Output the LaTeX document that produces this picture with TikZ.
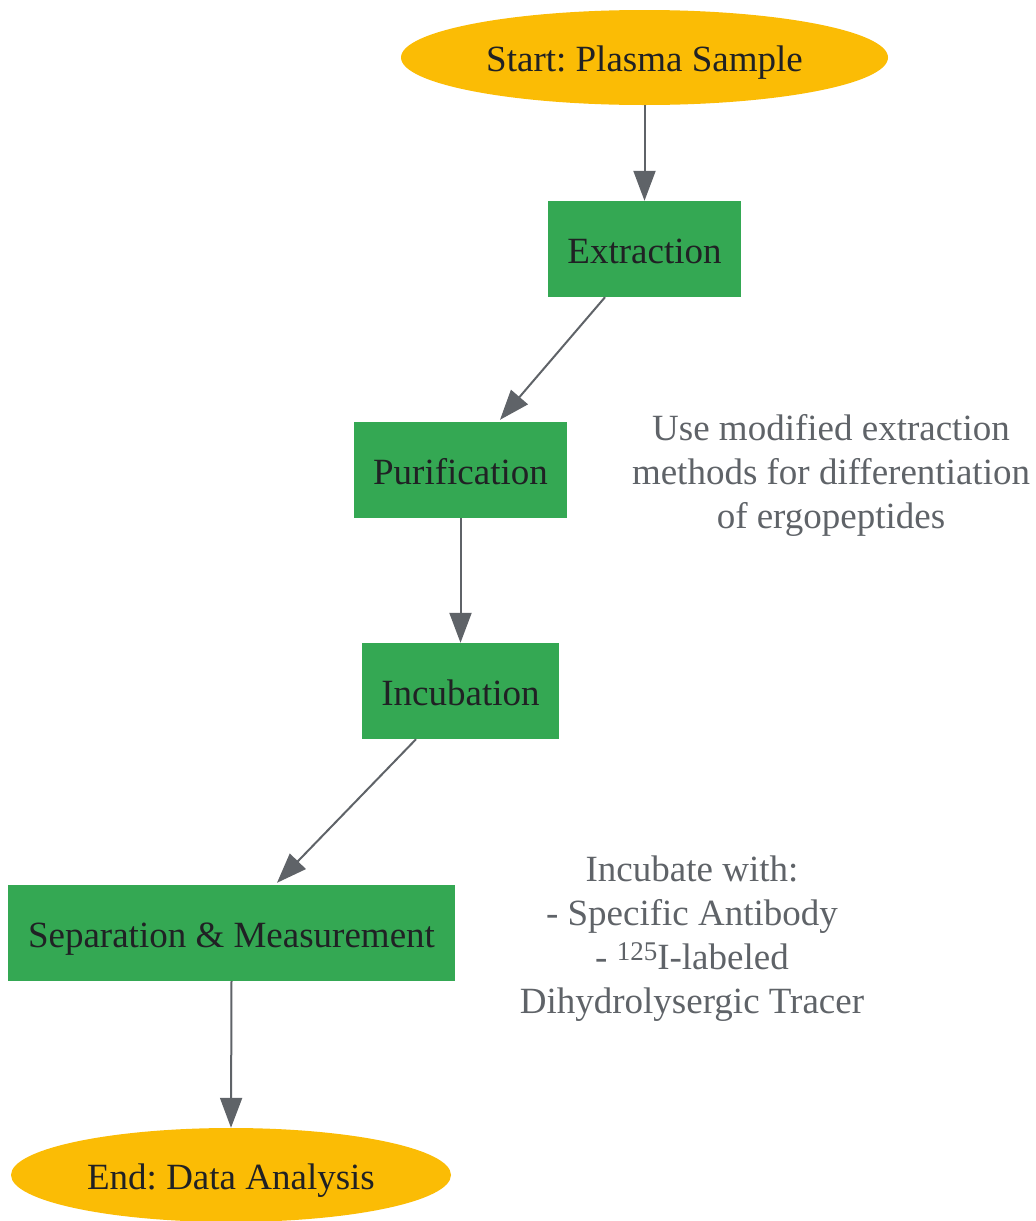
\documentclass[tikz,border=0pt]{standalone}
\usepackage{fontspec}
\setmainfont{Liberation Serif}
\frenchspacing
\usetikzlibrary{arrows.meta,calc,shapes.geometric}
\definecolor{gyellow}{HTML}{FBBC05}
\definecolor{ggreen}{HTML}{34A853}
\definecolor{gtext}{HTML}{202124}
\definecolor{ggray}{HTML}{5F6368}
\tikzset{
  base/.style={font=\fontsize{37}{44}\selectfont, text=gtext, inner sep=0pt, text height=33pt, text depth=5pt},
  term/.style={base, ellipse, fill=gyellow, draw=none},
  stepbox/.style={base, rectangle, fill=ggreen, draw=none, minimum height=96pt},
  note/.style={font=\fontsize{37}{44}\selectfont, text=ggray, align=center, inner sep=0pt},
  conn/.style={draw=ggray, line width=2pt, -{Triangle[length=30pt,width=22pt]}}
}
\begin{document}
\begin{tikzpicture}[x=1pt,y=-1pt]
\useasboundingbox (0,0) rectangle (1036,1221);
\node[term, minimum width=487pt, minimum height=95pt] (start) at (644.5,57.5) {Start: Plasma Sample};
\node[stepbox, minimum width=193pt] (ext) at (644.5,249) {Extraction};
\node[stepbox, minimum width=213pt] (pur) at (460.5,470) {Purification};
\node[stepbox, minimum width=197pt] (inc) at (460.5,691) {Incubation};
\node[stepbox, minimum width=447pt] (sep) at (231.5,933) {Separation \& Measurement};
\node[term, minimum width=440pt, minimum height=94pt] (end) at (231,1175) {End: Data Analysis};
\node[note] (n1) at (831,475) {Use modified extraction\\methods for differentiation\\of ergopeptides};
\node[note] (n2) at (692,939) {Incubate with:\\- Specific Antibody\\- {\fontsize{27}{27}\selectfont\raisebox{9pt}{125}}I-labeled\\Dihydrolysergic Tracer};
\draw[conn] (start.south) -- (ext.north);
\draw[conn] ([xshift=-39.5pt]ext.south) -- ([xshift=39.5pt,yshift=2pt]pur.north);
\draw[conn] (pur.south) -- (inc.north);
\draw[conn] ([xshift=-44.5pt]inc.south) -- ([xshift=45.5pt,yshift=2pt]sep.north);
\draw[conn] (sep.south) -- (end.north);
\end{tikzpicture}
\end{document}
